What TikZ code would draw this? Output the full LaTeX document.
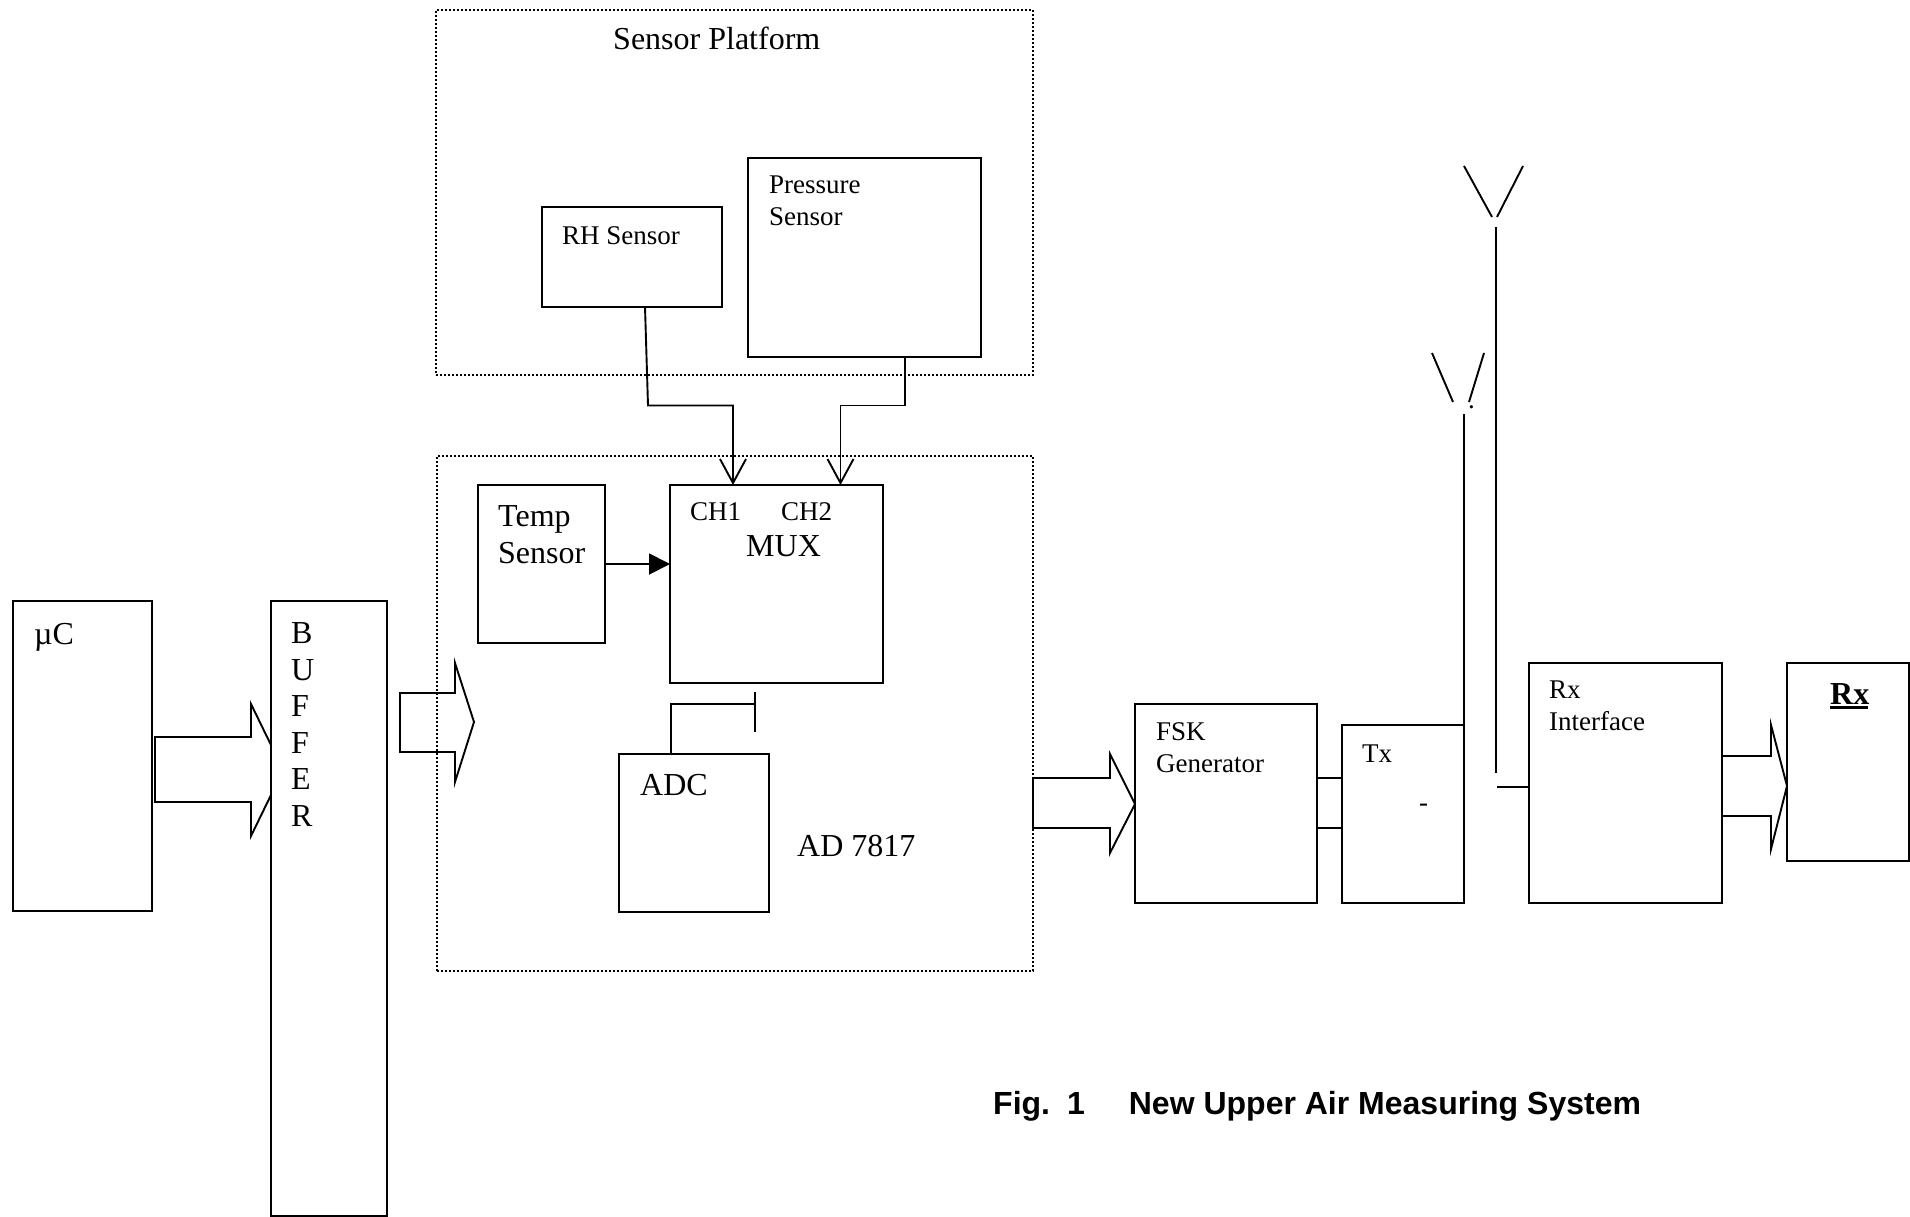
\documentclass[tikz,border=0pt]{standalone}
\usepackage{fontspec}
\setmainfont{Liberation Serif}
\setsansfont{Liberation Sans}
\usetikzlibrary{arrows.meta,fit}
\tikzset{
  blockbox/.style={
    rectangle, draw=black, line width=1.9pt,
    inner sep=0pt, outer sep=0pt
  },
  dotbox/.style={
    rectangle, draw=black, line width=1.5pt,
    dash pattern=on 2pt off 2pt,
    inner sep=0pt, outer sep=0pt
  },
  biglabel/.style={
    font=\fontsize{32}{36.5}\selectfont, align=left,
    inner sep=0pt, anchor=base west
  },
  smalllabel/.style={
    font=\fontsize{27}{31.7}\selectfont, align=left,
    inner sep=0pt, anchor=base west
  },
  captionlabel/.style={
    font=\fontsize{32}{36.5}\selectfont\sffamily\bfseries,
    inner sep=0pt, anchor=base west
  },
  wireline/.style={line width=1.9pt},
  busarrow/.style={line width=1.9pt, line join=miter},
  barbarrow/.style={
    line width=1.9pt,
    -{Straight Barb[length=24pt,width=26pt,line width=1.9pt]}
  },
  solidarrow/.style={
    line width=1.9pt,
    -{Triangle[length=21pt,width=21pt]}
  },
}
\begin{document}
\begin{tikzpicture}[x=1pt,y=-1pt]
    \useasboundingbox (0,0) rectangle (1910,1217);
    % dotted groups
    \node[dotbox, fit={(436,10) (1033,375)}] (platform) {};
    \node[dotbox, fit={(437,456) (1033,971)}] (adbox) {};
    % blocks
    \node[blockbox, fit={(542,207) (722,307)}] (rh) {};
    \node[blockbox, fit={(748,158) (981,357)}] (pressure) {};
    \node[blockbox, fit={(478,485) (605,643)}] (temp) {};
    \node[blockbox, fit={(670,485) (883,683)}] (mux) {};
    \node[blockbox, fit={(619,754) (769,912)}] (adc) {};
    \node[blockbox, fit={(13,601) (152,911)}] (uc) {};
    \node[blockbox, fit={(271,601) (387,1216)}] (buffer) {};
    \node[blockbox, fit={(1135,704) (1317,903)}] (fsk) {};
    \node[blockbox, fit={(1342,725) (1464,903)}] (tx) {};
    \node[blockbox, fit={(1529,663) (1722,903)}] (rxif) {};
    \node[blockbox, fit={(1787,663) (1909,861)}] (rx) {};
    % labels
    \node[biglabel] (platformlbl) at (613,50) {Sensor Platform};
    \node[smalllabel] (rhlbl) at (562,244) {RH Sensor};
    \node[smalllabel] (pressurelbl) at (769,225) {Pressure\\Sensor};
    \node[biglabel] (templbl) at (498,563) {Temp\\Sensor};
    \node[smalllabel] (ch1lbl) at (690,520) {CH1};
    \node[smalllabel] (ch2lbl) at (781,520) {CH2};
    \node[biglabel] (muxlbl) at (746,556) {MUX};
    \node[biglabel] (adclbl) at (640,795) {ADC};
    \node[biglabel] (adlbl) at (797,856) {AD 7817};
    \node[biglabel] (uclbl) at (34,644) {µC};
    \node[biglabel] (bufferlbl) at (291,826) {B\\U\\F\\F\\E\\R};
    \node[smalllabel] (fsklbl) at (1156,772) {FSK\\Generator};
    \node[smalllabel] (txlbl) at (1362,762) {Tx};
    \node[smalllabel] (txdash) at (1419,811) {-};
    \node[smalllabel] (rxiflbl) at (1549,730) {Rx\\Interface};
    \node[biglabel] (rxlbl) at (1830,704) {\rlap{\rule[-4.5pt]{38pt}{2.5pt}}\textbf{Rx}};
    \node[smalllabel] (antdot) at (1468,408) {.};
    \node[captionlabel] (caption) at (993,1114) {Fig.\hspace{17pt}1\hspace{44pt}New Upper Air Measuring System};
    % sensor wires
    \draw[barbarrow] (rh.south -| 645,0) -- (648,405.5) -- (733,405.5) -- (mux.north -| 733,0);
    \draw[barbarrow] (pressure.south -| 905,0) -- (905,405.5) -- (840.5,405.5) -- (mux.north -| 840.5,0);
    \draw[solidarrow] (temp.east |- 0,564) -- (mux.west |- 0,564);
    % adc stub
    \coordinate (adctick) at (755,704);
    \draw[wireline] (adc.north -| 671,0) -- (671,704) -- (adctick);
    \draw[wireline] ([yshift=12pt]adctick) -- ([yshift=-28pt]adctick);
    % bus arrows
    \draw[busarrow] (buffer.west |- 0,745) -- (251,704) -- (251,737) -- (155,737) -- (155,802)
        -- (251,802) -- (251,836) -- (buffer.west |- 0,795);
    \draw[busarrow] (400,693) -- (455,693) -- (455,663) -- (474,722) -- (455,782) -- (455,752) -- (400,752) -- cycle;
    \draw[busarrow] (adbox.east |- 0,778) -- (1110,778) -- (1110,754) -- (fsk.west |- 0,804)
        -- (1110,853) -- (1110,828) -- (adbox.east |- 0,828) -- cycle;
    \draw[busarrow] (rxif.east |- 0,756) -- (1771,756) -- (1771,725) -- (rx.west |- 0,786)
        -- (1771,849) -- (1771,816) -- (rxif.east |- 0,816);
    % fsk to tx
    \draw[wireline] (fsk.east |- 0,778) -- (tx.west |- 0,778);
    \draw[wireline] (fsk.east |- 0,828) -- (tx.west |- 0,828);
    % antennas
    \coordinate (ant2top) at (tx.east |- 0,414);
    \coordinate (ant1top) at (1496,227);
    \coordinate (ant1end) at (1496,773);
    \coordinate (ant1stub) at (1497,787);
    \draw[wireline] (tx.east |- 0,811) -- (ant2top);
    \draw[wireline] (1432,353) -- (1453,402);
    \draw[wireline] (1484,353) -- (1469,402);
    \draw[wireline] (ant1top) -- (ant1end);
    \draw[wireline] (1464,166) -- (1492,217);
    \draw[wireline] (1523,166) -- (1497,217);
    \draw[wireline] (ant1stub) -- (rxif.west |- ant1stub);
\end{tikzpicture}
\end{document}
